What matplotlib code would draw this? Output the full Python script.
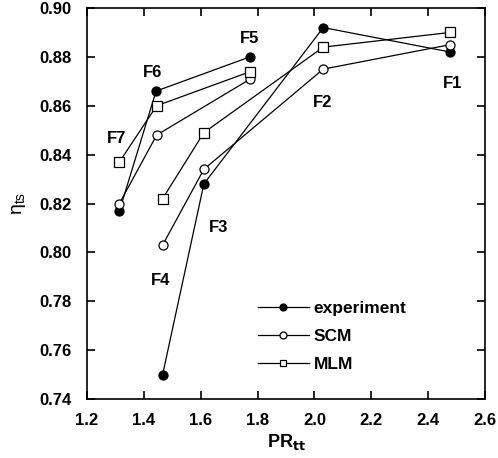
import numpy as np
import matplotlib
matplotlib.use('Agg')
import matplotlib.pyplot as plt

plt.rcParams['font.family'] = ['Liberation Sans', 'DejaVu Sans']
plt.rcParams['font.weight'] = 'bold'

# operating points F1..F7, two speed lines: F1-F4 and F5-F7
labels = ['F1', 'F2', 'F3', 'F4', 'F5', 'F6', 'F7']

pr_exp = [2.477, 2.031, 1.611, 1.466, 1.773, 1.443, 1.314]
eta_exp = [0.882, 0.892, 0.828, 0.750, 0.880, 0.866, 0.817]

pr_scm = [2.477, 2.031, 1.611, 1.466, 1.775, 1.445, 1.314]
eta_scm = [0.885, 0.875, 0.834, 0.803, 0.871, 0.848, 0.820]

pr_mlm = [2.477, 2.031, 1.611, 1.466, 1.775, 1.445, 1.314]
eta_mlm = [0.890, 0.884, 0.849, 0.822, 0.874, 0.860, 0.837]

# label positions (data units)
lab_x = [2.484, 2.030, 1.661, 1.460, 1.773, 1.432, 1.305]
lab_y = [0.8693, 0.8615, 0.8100, 0.7883, 0.8877, 0.8738, 0.8468]

fig = plt.figure(figsize=(4.98, 4.58), dpi=100)
ax = fig.add_axes([0.1747, 0.1288, 0.7993, 0.8537])

groups = [slice(0, 4), slice(4, 7)]
series = [
    (pr_exp, eta_exp, dict(marker='o', mfc='black', ms=6.5), 'experiment'),
    (pr_scm, eta_scm, dict(marker='o', mfc='white', ms=6.5), 'SCM'),
    (pr_mlm, eta_mlm, dict(marker='s', mfc='white', ms=6.5), 'MLM'),
]
handles = []
for x, y, style, name in series:
    x = np.asarray(x)
    y = np.asarray(y)
    for g in groups:
        ax.plot(x[g], y[g], color='black', lw=0.9, mec='black', mew=0.9, **style)
    h, = ax.plot([], [], color='black', lw=0.9, mec='black', mew=0.9,
                 marker=style['marker'], mfc=style['mfc'], ms=5)
    handles.append((h, name))

for t, lx, ly in zip(labels, lab_x, lab_y):
    ax.text(lx, ly, t, ha='center', va='center', fontsize=12, fontweight='bold')

ax.set_xlim(1.2, 2.6)
ax.set_ylim(0.74, 0.90)
ax.set_xticks(np.arange(1.2, 2.61, 0.2))
ax.set_yticks(np.arange(0.74, 0.901, 0.02))
ax.xaxis.set_major_formatter(matplotlib.ticker.FormatStrFormatter('%.1f'))
ax.yaxis.set_major_formatter(matplotlib.ticker.FormatStrFormatter('%.2f'))
ax.tick_params(direction='in', top=True, right=True, length=6, width=1.2,
               labelsize=12)
ax.tick_params(axis='x', pad=10)
ax.tick_params(axis='y', pad=11)
for lbl in ax.get_xticklabels() + ax.get_yticklabels():
    lbl.set_fontweight('bold')
for s in ax.spines.values():
    s.set_linewidth(1.2)

ax.set_xlabel(r'PR$_{\mathbf{tt}}$', fontsize=13, fontweight='bold', labelpad=3)
ax.set_ylabel(r'$\mathregular{\eta_{ts}}$', fontsize=14, labelpad=8)

leg = ax.legend([h for h, n in handles], [n for h, n in handles],
                loc='upper left', bbox_to_anchor=(0.43, 0.25), frameon=False,
                fontsize=12.5, handlelength=2.9, handletextpad=0.3,
                labelspacing=0.72, borderpad=0, borderaxespad=0)

fig.savefig('out.png', dpi=100)
